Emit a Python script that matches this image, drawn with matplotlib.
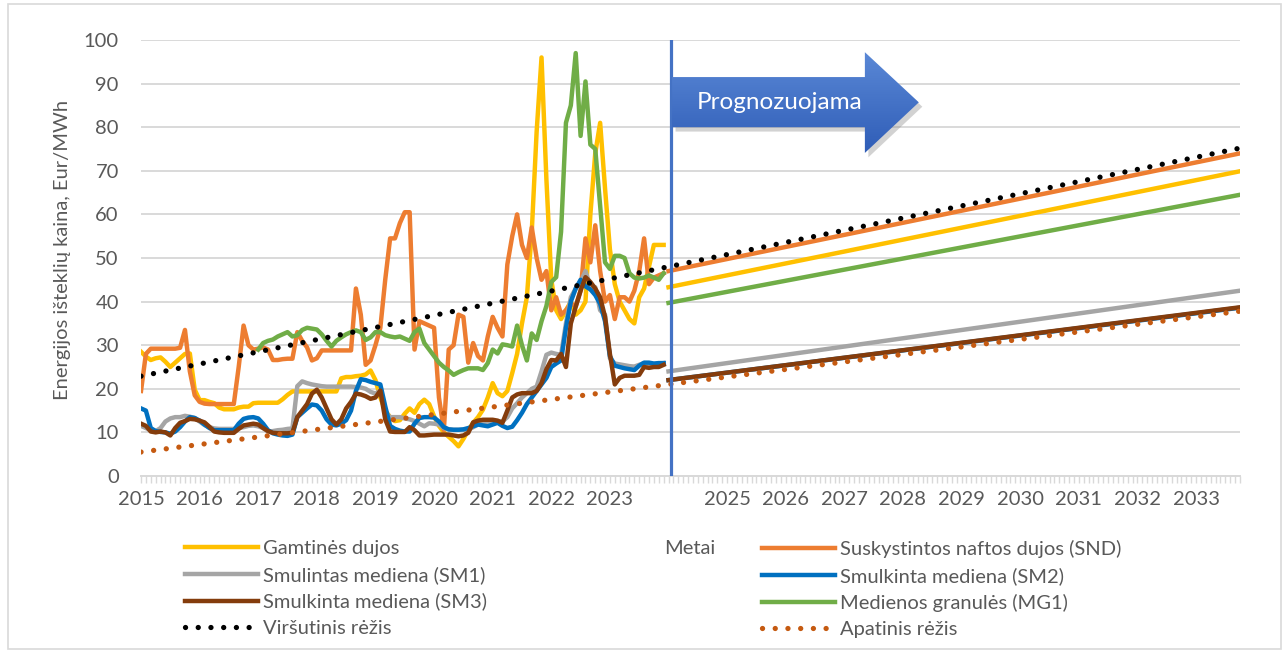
import numpy as np
import matplotlib.pyplot as plt
from matplotlib.colors import LinearSegmentedColormap
from matplotlib.patches import Polygon, Rectangle

plt.rcParams['font.family'] = ['Lato', 'DejaVu Sans']

# monthly prices, Jan 2015 - Dec 2023 (Eur/MWh)
gas = [28.5, 27.4, 26.6, 27.0, 27.2, 26.2, 25.0, 26.0, 27.0, 28.0, 28.1, 19.8,
       17.4, 17.4, 17.0, 16.7, 15.7, 15.3, 15.3, 15.3, 15.7, 15.9, 15.9, 16.7,
       16.8, 16.8, 16.8, 16.8, 16.8, 17.6, 18.6, 19.4, 19.4, 19.4, 19.4, 19.4,
       19.4, 19.4, 19.4, 19.4, 19.4, 22.4, 22.7, 22.7, 22.9, 23.0, 23.3, 24.2,
       22.0, 18.0, 15.0, 13.5, 12.6, 12.8, 14.3, 15.5, 14.5, 16.5, 17.5, 16.5,
       13.7, 11.5, 10.0, 9.0, 8.0, 6.8, 8.5, 10.5, 12.2, 13.5, 15.2, 18.0,
       21.3, 19.0, 18.3, 19.5, 23.6, 28.0, 35.0, 41.0, 56.0, 79.0, 96.0, 68.0,
       45.0, 38.0, 36.0, 38.0, 40.0, 37.0, 38.0, 40.0, 60.0, 74.0, 81.0, 66.0,
       52.0, 44.0, 40.0, 38.0, 36.0, 35.0, 41.0, 43.0, 48.0, 53.0, 53.0, 53.0]
lpg = [19.5, 28.0, 29.2, 29.2, 29.2, 29.2, 29.2, 29.2, 29.4, 33.5, 24.0, 18.5,
       17.0, 16.6, 16.5, 16.5, 16.5, 16.5, 16.5, 16.5, 25.0, 34.5, 30.0, 29.0,
       29.2, 29.5, 29.0, 26.6, 26.6, 26.8, 26.9, 26.9, 33.0, 31.0, 29.5, 26.5,
       27.0, 28.8, 28.8, 28.8, 28.8, 28.8, 28.8, 28.8, 43.0, 37.0, 25.5, 26.5,
       30.0, 34.0, 45.0, 54.5, 54.5, 58.0, 60.5, 60.5, 29.0, 35.5, 35.0, 34.5,
       34.0, 18.0, 10.5, 29.0, 30.0, 37.0, 36.5, 26.0, 30.5, 27.5, 26.5, 32.0,
       36.5, 34.0, 32.0, 48.5, 55.0, 60.0, 53.0, 50.0, 57.0, 50.0, 45.0, 47.0,
       38.0, 41.0, 37.0, 38.0, 39.5, 39.0, 42.5, 54.5, 49.0, 57.5, 47.0, 40.0,
       41.5, 36.0, 41.0, 41.0, 40.0, 42.5, 47.0, 54.5, 44.0, 45.5, 46.0, 46.5]
sm1 = [11.5, 11.0, 10.5, 10.3, 11.0, 12.5, 13.2, 13.5, 13.5, 13.8, 13.6, 13.3,
       12.5, 11.7, 11.2, 10.9, 10.8, 10.8, 10.8, 10.8, 11.0, 11.2, 11.5, 11.6,
       11.4, 11.0, 10.2, 10.3, 10.5, 10.6, 10.8, 10.9, 20.6, 21.7, 21.3, 21.0,
       20.8, 20.6, 20.5, 20.5, 20.5, 20.5, 20.5, 20.5, 20.4, 20.3, 20.0, 19.3,
       18.9, 19.6, 14.5, 13.5, 13.5, 13.5, 13.2, 13.0, 12.6, 12.0, 11.4, 12.1,
       12.0, 11.8, 11.0, 10.7, 10.6, 10.6, 10.6, 10.6, 11.2, 11.8, 12.0, 12.2,
       12.2, 12.4, 12.5, 13.5, 15.5, 16.7, 18.0, 19.0, 20.0, 20.5, 24.0, 27.8,
       28.3, 28.0, 27.8, 35.0, 41.0, 43.0, 44.5, 47.0, 43.5, 43.3, 38.0, 37.0,
       27.0, 25.8, 25.6, 25.4, 25.2, 25.1, 25.5, 25.9, 25.7, 25.5, 25.7, 25.9]
sm2 = [15.5, 15.0, 11.0, 10.3, 10.1, 10.0, 9.7, 10.2, 11.2, 12.5, 13.5, 13.3,
       12.7, 11.8, 11.0, 10.5, 10.5, 10.5, 10.5, 10.5, 12.0, 13.1, 13.4, 13.5,
       13.2, 12.0, 10.5, 9.8, 9.5, 9.3, 9.2, 9.5, 13.5, 14.5, 15.5, 16.4,
       16.2, 15.0, 13.0, 11.8, 11.6, 12.0, 12.8, 15.0, 19.5, 22.2, 22.0, 21.6,
       21.3, 21.0, 16.0, 11.5, 10.8, 10.4, 10.2, 10.2, 12.0, 13.3, 13.5, 13.5,
       13.4, 12.5, 11.2, 10.7, 10.6, 10.6, 10.7, 11.0, 11.4, 11.8, 11.6, 11.4,
       11.8, 12.2, 11.5, 11.0, 11.3, 12.8, 14.5, 16.5, 18.0, 19.5, 21.0, 22.5,
       25.0, 25.8, 26.5, 34.0, 40.0, 43.0, 45.0, 43.5, 42.8, 41.5, 39.5, 35.5,
       27.5, 25.3, 25.0, 24.7, 24.5, 24.3, 25.3, 26.0, 26.0, 25.8, 25.9, 25.9]
sm3 = [12.0, 11.5, 10.2, 10.0, 10.2, 10.0, 9.3, 11.0, 12.2, 12.6, 13.1, 13.0,
       12.7, 12.3, 11.3, 10.2, 10.0, 9.9, 9.9, 9.9, 10.8, 11.6, 11.8, 12.0,
       11.8, 11.0, 10.3, 9.9, 9.8, 9.8, 9.8, 9.9, 13.5, 15.0, 16.5, 18.9,
       19.8, 18.0, 15.5, 13.0, 11.8, 13.0, 15.5, 17.0, 18.9, 18.7, 18.3, 17.7,
       18.0, 19.6, 13.0, 10.2, 10.1, 10.1, 10.1, 11.2, 10.5, 9.3, 9.3, 9.4,
       9.5, 9.5, 9.5, 9.5, 9.3, 9.1, 9.3, 9.9, 12.3, 12.7, 12.9, 12.9,
       12.9, 12.7, 12.2, 15.0, 18.0, 18.7, 19.0, 19.0, 19.0, 19.5, 21.3, 24.5,
       26.6, 26.5, 28.0, 25.0, 35.0, 38.8, 42.5, 45.6, 44.5, 43.0, 41.0, 36.5,
       28.0, 21.0, 22.5, 23.0, 23.0, 23.0, 23.2, 25.0, 24.8, 25.0, 25.0, 25.5]
# pellets series starts Jan 2017
mg1 = [29.0, 30.5, 31.0, 31.3, 32.0, 32.5, 33.0, 32.0, 32.3, 33.5, 34.0, 33.8,
       33.6, 32.5, 31.0, 29.7, 31.0, 31.8, 32.5, 33.0, 33.4, 33.0, 31.2, 31.8,
       33.0, 33.0, 32.3, 32.0, 31.8, 32.0, 31.5, 31.0, 33.0, 33.8, 30.5, 29.0,
       27.5, 26.0, 25.0, 24.2, 23.2, 23.8, 24.3, 24.7, 24.7, 24.7, 24.3, 25.9,
       29.0, 28.1, 30.2, 30.0, 29.7, 34.5, 30.0, 26.5, 32.7, 31.2, 35.5, 39.0,
       44.5, 45.6, 56.0, 81.0, 85.0, 97.0, 78.0, 90.5, 76.0, 75.0, 62.0, 49.0,
       47.5, 50.5, 50.5, 50.0, 46.5, 45.5, 45.3, 45.5, 46.0, 45.5, 45.0, 46.5]

# forecast 2024 -> 2033
fc_years = [2024.0, 2033.75]
gas_fc = [43.3, 69.9]
lpg_fc = [47.0, 74.0]
sm1_fc = [24.0, 42.5]
sm2_fc = [22.0, 38.6]
sm3_fc = [22.0, 38.7]
mg1_fc = [39.7, 64.5]

# upper / lower bounds over whole period
bound_years = [2015.0, 2033.75]
upper = [22.9, 75.2]
lower = [5.5, 37.8]

years = list(range(2015, 2034))
year_labels = [str(y) if y != 2024 else '' for y in years]

t_hist = 2015 + np.arange(len(gas)) / 12
t_mg1 = 2017 + np.arange(len(mg1)) / 12

grey_txt = '#595959'
fs = 14.5

fig = plt.figure(figsize=(12.87, 6.53), dpi=100)
ax = fig.add_axes([141 / 1287, 1 - 476 / 653, 1099 / 1287, 436 / 653])

series = [
    ('Gamtinės dujos', '#FFC000', t_hist, gas, gas_fc),
    ('Suskystintos naftos dujos (SND)', '#ED7D31', t_hist, lpg, lpg_fc),
    ('Smulintas mediena (SM1)', '#A5A5A5', t_hist, sm1, sm1_fc),
    ('Smulkinta mediena (SM2)', '#0070C0', t_hist, sm2, sm2_fc),
    ('Smulkinta mediena (SM3)', '#843C0C', t_hist, sm3, sm3_fc),
    ('Medienos granulės (MG1)', '#70AD47', t_mg1, mg1, mg1_fc),
]
handles = {}
for name, col, t, vals, fc in series:
    h, = ax.plot(t, vals, color=col, lw=3.2, solid_joinstyle='round', label=name)
    ax.plot(fc_years, fc, color=col, lw=3.2)
    handles[name] = h

dot_style = (0, (0.01, 2.4))
h_up, = ax.plot(bound_years, upper, color='black', lw=3.8, linestyle=dot_style,
                dash_capstyle='round', label='Viršutinis rėžis')
h_lo, = ax.plot(bound_years, lower, color='#C55A11', lw=3.8, linestyle=dot_style,
                dash_capstyle='round', label='Apatinis rėžis')

# start of forecast
ax.axvline(2024.04, color='#4472C4', lw=2.3, zorder=5)

# forecast arrow with gradient
arrow_xy = [(2024.06, 91.5), (2027.35, 91.5), (2027.35, 97.2), (2028.27, 85.7),
            (2027.35, 74.1), (2027.35, 80.0), (2024.06, 80.0)]
shadow = Polygon([(x + 0.06, y - 1.0) for x, y in arrow_xy], closed=True,
                 facecolor='#7F7F7F', edgecolor='none', alpha=0.35, zorder=6)
ax.add_patch(shadow)
arrow = Polygon(arrow_xy, closed=True, facecolor='none', edgecolor='none', zorder=7)
ax.add_patch(arrow)
grad = np.linspace(0, 1, 100).reshape(-1, 1)
img = ax.imshow(grad, extent=(2024.06, 2028.27, 74.1, 97.2), aspect='auto',
                cmap=LinearSegmentedColormap.from_list('arr', ['#2F5DB7', '#5A88D6']),
                origin='lower', zorder=7)
img.set_clip_path(arrow)
ax.text(2025.89, 85.7, 'Prognozuojama', color='white', fontsize=17.5,
        ha='center', va='center', zorder=8)

ax.set_xlim(2015, 2033.75)
ax.set_ylim(0, 100)
ax.set_yticks(range(0, 101, 10))
ax.grid(axis='y', color='#D9D9D9', lw=1.4)
ax.set_axisbelow(True)
ax.set_xticks(years)
ax.set_xticklabels(year_labels)
ax.set_xticks(np.arange(2015, 2033.76, 1 / 12), minor=True)
ax.tick_params(axis='x', which='both', length=5, width=1, color='#D9D9D9',
               labelsize=fs, labelcolor=grey_txt, pad=6)
ax.tick_params(axis='y', length=0, labelsize=fs, labelcolor=grey_txt, pad=16)
for s in ['top', 'right', 'left']:
    ax.spines[s].set_visible(False)
ax.spines['bottom'].set_color('#D9D9D9')
ax.spines['bottom'].set_linewidth(1.4)

fig.text(63 / 1287, 1 - 250 / 653, 'Energijos išteklių kaina, Eur/MWh',
         rotation=90, ha='center', va='center', fontsize=fs, color=grey_txt)
fig.text(690 / 1287, 1 - 548 / 653, 'Metai', ha='center', va='center',
         fontsize=fs, color=grey_txt)

left = [handles['Gamtinės dujos'], handles['Smulintas mediena (SM1)'],
        handles['Smulkinta mediena (SM3)'], h_up]
right = [handles['Suskystintos naftos dujos (SND)'], handles['Smulkinta mediena (SM2)'],
         handles['Medienos granulės (MG1)'], h_lo]
leg_kw = dict(frameon=False, fontsize=fs, handlelength=3.6, handletextpad=0.25,
              labelspacing=0.44, labelcolor=grey_txt, borderpad=0, borderaxespad=0)
fig.legend(handles=left, loc='upper left', bbox_to_anchor=(185 / 1287, 1 - 540 / 653), **leg_kw)
fig.legend(handles=right, loc='upper left', bbox_to_anchor=(762 / 1287, 1 - 540 / 653), **leg_kw)

fig.patches.append(Rectangle((8 / 1287, 4 / 653), 1273 / 1287, 645 / 653,
                             transform=fig.transFigure, fill=False,
                             edgecolor='#D9D9D9', lw=1.2))

fig.savefig('out.png', dpi=100)
